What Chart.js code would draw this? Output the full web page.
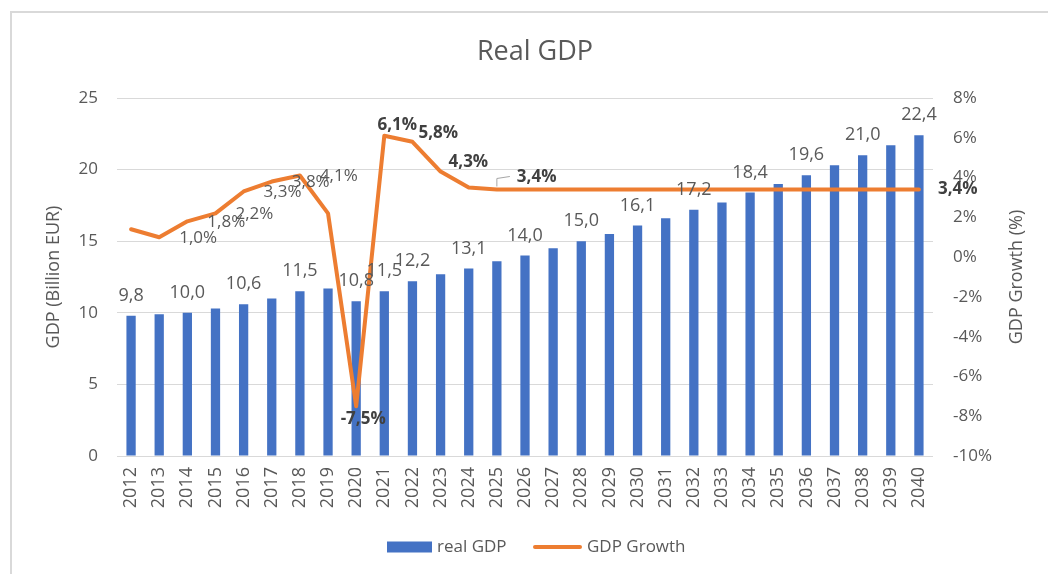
<!DOCTYPE html>
<html>
<head>
<meta charset="utf-8">
<script src="https://cdn.jsdelivr.net/npm/chart.js@4/dist/chart.umd.min.js"></script>
<style>
  html, body { margin: 0; padding: 0; background: #ffffff; }
  #wrap { position: relative; width: 1048px; height: 574px; overflow: hidden; }
  canvas { display: block; }
</style>
</head>
<body>
<div id="wrap"><canvas id="c" width="1048" height="574"></canvas></div>
<script>
// ---- data ----
const years = ['2012','2013','2014','2015','2016','2017','2018','2019','2020','2021','2022','2023','2024','2025','2026','2027','2028','2029','2030','2031','2032','2033','2034','2035','2036','2037','2038','2039','2040'];
const realGdp = [9.8, 9.9, 10.0, 10.3, 10.6, 11.0, 11.5, 11.7, 10.8, 11.5, 12.2, 12.7, 13.1, 13.6, 14.0, 14.5, 15.0, 15.5, 16.1, 16.6, 17.2, 17.7, 18.4, 19.0, 19.6, 20.3, 21.0, 21.7, 22.4];
const gdpGrowth = [1.4, 1.0, 1.8, 2.2, 3.3, 3.8, 4.1, 2.2, -7.5, 6.1, 5.8, 4.3, 3.5, 3.4, 3.4, 3.4, 3.4, 3.4, 3.4, 3.4, 3.4, 3.4, 3.4, 3.4, 3.4, 3.4, 3.4, 3.4, 3.4];
const gdpLabelYears = ['2012','2014','2016','2018','2020','2021','2022','2024','2026','2028','2030','2032','2034','2036','2038','2040'];
const growthLabelYears = ['2013','2014','2015','2016','2017','2018','2020','2021','2022','2023','2025','2040'];
const leftTicks = [0, 5, 10, 15, 20, 25];
const rightTicks = [-10, -8, -6, -4, -2, 0, 2, 4, 6, 8];
const titleText = 'Real GDP';
const leftTitle = 'GDP (Billion EUR)';
const rightTitle = 'GDP Growth (%)';
const seriesNames = ['real GDP', 'GDP Growth'];

// ---- styling / placement ----
const FONT = '"Open Sans", "Noto Sans", sans-serif';
const GREY = '#595959';
const DARK = '#404040';
const BLUE = '#4472C4';
const ORANGE = '#ED7D31';
const fmt = v => v.toFixed(1).replace('.', ',');

// label placement relative to the point pixel
const growthPlacement = {
  '2013': {dx: 20, dy: 1, align: 'left', bold: false},
  '2014': {dx: 20, dy: 1, align: 'left', bold: false},
  '2015': {dx: 20, dy: 1, align: 'left', bold: false},
  '2016': {dx: 20, dy: 1, align: 'left', bold: false},
  '2017': {dx: 20, dy: 1, align: 'left', bold: false},
  '2018': {dx: 20, dy: 1, align: 'left', bold: false},
  '2020': {dx: 7, dy: 13, align: 'center', bold: true},
  '2021': {dx: 13, dy: -11, align: 'center', bold: true},
  '2022': {dx: 6, dy: -9, align: 'left', bold: true},
  '2023': {dx: 8, dy: -9, align: 'left', bold: true},
  '2025': {dx: 20, dy: -12, align: 'left', bold: true, leader: true},
  '2040': {dx: 19, dy: 0, align: 'left', bold: true}
};

const decorPlugin = {
  id: 'decor',
  beforeDraw(chart) {
    const ctx = chart.ctx;
    ctx.save();
    ctx.fillStyle = '#ffffff';
    ctx.fillRect(0, 0, chart.width, chart.height);
    ctx.strokeStyle = '#d9d9d9';
    ctx.lineWidth = 2;
    ctx.beginPath();
    ctx.moveTo(11, chart.height + 5);
    ctx.lineTo(11, 12);
    ctx.lineTo(chart.width + 5, 12);
    ctx.stroke();
    ctx.restore();
  },
  afterDatasetsDraw(chart) {
    const ctx = chart.ctx;
    const barMeta = chart.getDatasetMeta(0);
    const lineMeta = chart.getDatasetMeta(1);
    ctx.save();
    // bar labels
    ctx.font = '18px ' + FONT;
    ctx.fillStyle = GREY;
    ctx.textAlign = 'center';
    ctx.textBaseline = 'middle';
    barMeta.data.forEach((el, i) => {
      if (gdpLabelYears.indexOf(years[i]) < 0) return;
      ctx.fillText(fmt(realGdp[i]), el.x, el.y - 20);
    });
    // growth labels
    lineMeta.data.forEach((el, i) => {
      const y = years[i];
      if (growthLabelYears.indexOf(y) < 0) return;
      const p = growthPlacement[y];
      ctx.font = (p.bold ? 'bold ' : '') + '17px ' + FONT;
      ctx.fillStyle = p.bold ? DARK : GREY;
      ctx.textAlign = p.align;
      ctx.textBaseline = 'middle';
      if (p.leader) {
        ctx.strokeStyle = '#a6a6a6';
        ctx.lineWidth = 1;
        ctx.beginPath();
        ctx.moveTo(el.x, el.y - 3);
        ctx.lineTo(el.x, el.y - 11);
        ctx.lineTo(el.x + 13, el.y - 13);
        ctx.stroke();
      }
      ctx.fillText(fmt(gdpGrowth[i]) + '%', el.x + p.dx, el.y + p.dy);
    });
    ctx.restore();
  },
  afterDraw(chart) {
    const ctx = chart.ctx;
    const area = chart.chartArea;
    const midY = (area.top + area.bottom) / 2;
    ctx.save();
    ctx.fillStyle = GREY;
    ctx.textAlign = 'center';
    ctx.textBaseline = 'middle';
    // title
    ctx.font = '27px ' + FONT;
    ctx.fillText(titleText, 535, 52);
    // axis titles
    ctx.font = '18px ' + FONT;
    ctx.save();
    ctx.translate(54, midY);
    ctx.rotate(-Math.PI / 2);
    ctx.fillText(leftTitle, 0, 0);
    ctx.restore();
    ctx.save();
    ctx.translate(1017, midY);
    ctx.rotate(-Math.PI / 2);
    ctx.fillText(rightTitle, 0, 0);
    ctx.restore();
    // legend
    const ly = 547;
    ctx.fillStyle = BLUE;
    ctx.fillRect(387, ly - 5.5, 45, 11);
    ctx.fillStyle = GREY;
    ctx.font = '17px ' + FONT;
    ctx.textAlign = 'left';
    ctx.fillText(seriesNames[0], 437, ly);
    ctx.strokeStyle = ORANGE;
    ctx.lineWidth = 4;
    ctx.lineCap = 'round';
    ctx.beginPath();
    ctx.moveTo(535, ly);
    ctx.lineTo(580, ly);
    ctx.stroke();
    ctx.fillText(seriesNames[1], 587, ly);
    ctx.restore();
  }
};

new Chart(document.getElementById('c'), {
  type: 'bar',
  data: {
    labels: years,
    datasets: [
      {
        type: 'bar',
        label: seriesNames[0],
        data: realGdp,
        yAxisID: 'y',
        backgroundColor: BLUE,
        borderWidth: 0,
        categoryPercentage: 1.0,
        barPercentage: 0.33,
        order: 2
      },
      {
        type: 'line',
        label: seriesNames[1],
        data: gdpGrowth,
        yAxisID: 'y2',
        borderColor: ORANGE,
        backgroundColor: ORANGE,
        borderWidth: 4,
        pointRadius: 0,
        tension: 0,
        borderJoinStyle: 'round',
        borderCapStyle: 'round',
        fill: false,
        order: 1
      }
    ]
  },
  options: {
    responsive: false,
    animation: false,
    devicePixelRatio: 1,
    layout: { padding: { left: 0, right: 0, top: 98, bottom: 58 } },
    plugins: {
      legend: { display: false },
      title: { display: false },
      tooltip: { enabled: false }
    },
    scales: {
      x: {
        offset: true,
        grid: { display: false, drawTicks: false },
        border: { display: false },
        ticks: {
          color: GREY,
          font: { family: FONT, size: 18 },
          maxRotation: 90,
          minRotation: 90,
          padding: 11,
          autoSkip: false
        },
        afterFit(s) { s.height = 60; }
      },
      y: {
        position: 'left',
        min: 0,
        max: 25,
        afterBuildTicks(s) { s.ticks = leftTicks.map(v => ({ value: v })); },
        grid: { color: '#d9d9d9', lineWidth: 1, drawTicks: false },
        border: { display: false },
        ticks: {
          color: GREY,
          font: { family: FONT, size: 17 },
          padding: 19
        },
        afterFit(s) { s.width = 117; }
      },
      y2: {
        position: 'right',
        min: -10,
        max: 8,
        afterBuildTicks(s) { s.ticks = rightTicks.map(v => ({ value: v })); },
        grid: { display: false, drawTicks: false },
        border: { display: false },
        ticks: {
          color: GREY,
          font: { family: FONT, size: 17 },
          padding: 20,
          callback: v => v + '%'
        },
        afterFit(s) { s.width = 115; }
      }
    }
  },
  plugins: [decorPlugin]
});
</script>
</body>
</html>
